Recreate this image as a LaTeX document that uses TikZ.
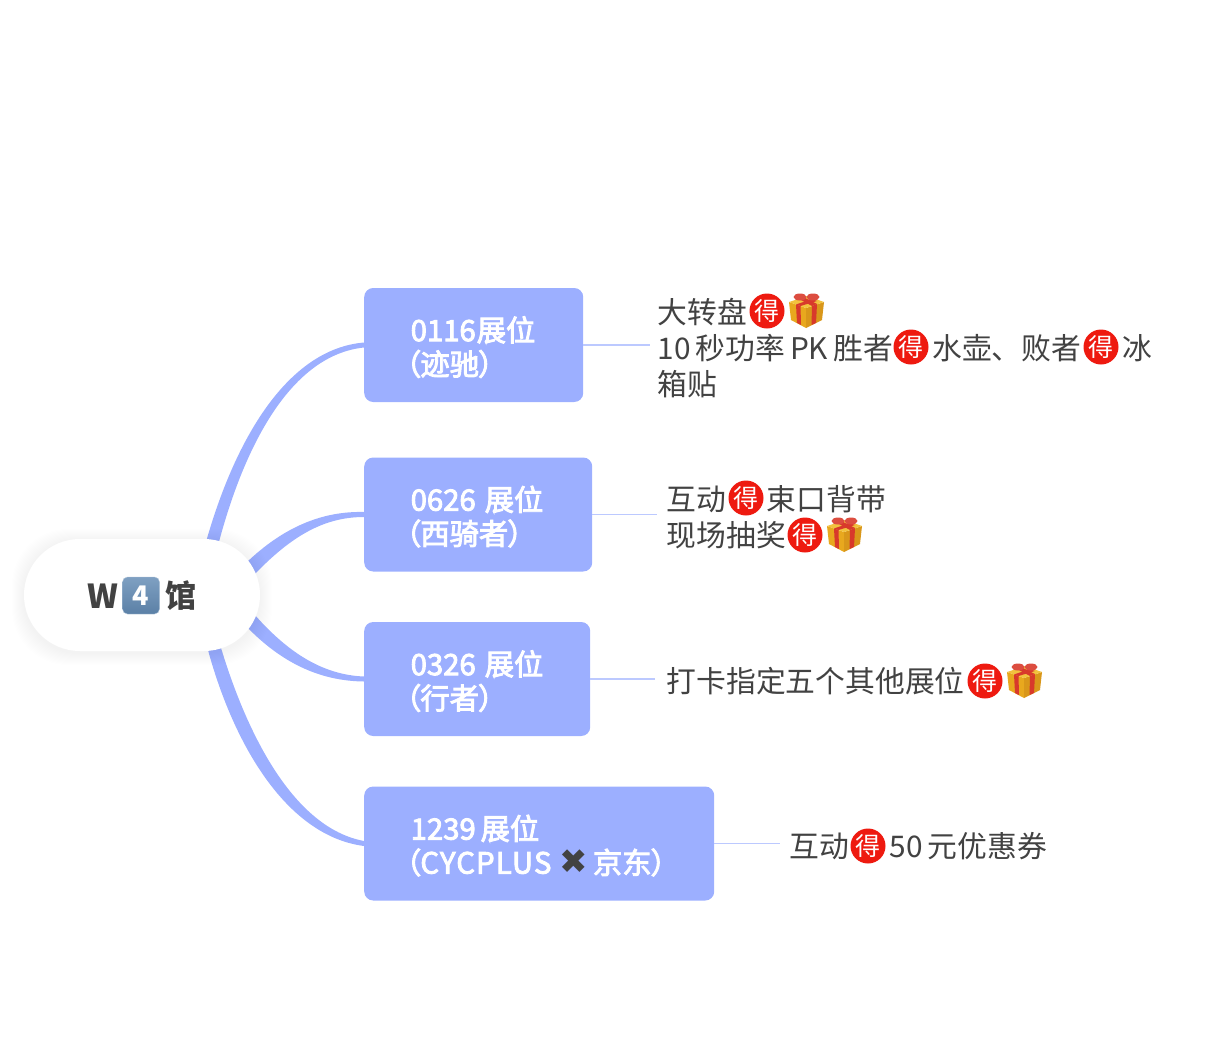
\documentclass[tikz,border=0pt]{standalone}
\usepackage{fontspec}
\setmainfont{Noto Sans CJK SC}
\newfontfamily\palfont[RawFeature=+palt,FakeBold=3]{Noto Sans CJK SC}
\newfontfamily\symfont{DejaVu Sans}
\usetikzlibrary{backgrounds}
\definecolor{topicblue}{HTML}{9CAFFF}
\definecolor{linkblue}{HTML}{BCC9FF}
\definecolor{textgray}{HTML}{424242}
\definecolor{sealred}{HTML}{EE1A10}
\definecolor{giftgold}{HTML}{E8A81E}
\definecolor{giftdark}{HTML}{D9971A}
\definecolor{gifttop}{HTML}{F2C23E}
\definecolor{giftred}{HTML}{D8392B}
\definecolor{keytop}{HTML}{7FA0C2}
\definecolor{keybottom}{HTML}{5B80A6}
\tikzset{
  topic/.style={draw=none,fill=topicblue,rounded corners=9pt,anchor=west,minimum height=114pt,
    inner xsep=46.5pt,inner ysep=0pt,align=left,text=white,
    font=\palfont\fontsize{29.3}{34}\selectfont},
  leaf/.style={anchor=base west,inner sep=0pt,text=textgray,font=\fontsize{29.8}{36}\selectfont},
  seal/.style={circle,fill=sealred,inner sep=0pt,minimum size=35pt,text=white,
    font=\fontsize{25}{25}\selectfont},
  link/.style={draw=linkblue,line width=1.8pt},
  branch/.style={fill=topicblue},
  gift/.pic={
    \fill[giftgold] (-18,-9) -- (-1,-3) -- (-1,17) -- (-16,9) -- cycle;
    \fill[giftdark] (-1,-3) -- (17,-9) -- (15,9) -- (-1,17) -- cycle;
    \fill[gifttop] (-18,-9) -- (0,-15) -- (17,-9) -- (-1,-3) -- cycle;
    \fill[giftred] (-11,-6.5) -- (-6.5,-5) -- (-6,14) -- (-10,12) -- cycle;
    \fill[giftred] (5,-5) -- (10,-7) -- (9,12) -- (4.5,14) -- cycle;
    \fill[giftred] (-11,-6.5) -- (5,-12) -- (10,-10) -- (-6.5,-5) -- cycle;
    \fill[giftred] (-8,-12) -- (-3,-13.5) -- (10,-7) -- (5,-5) -- cycle;
    \fill[giftred!90!white] (-7,-14) ellipse (6.5 and 3.5);
    \fill[giftred!90!white] (6,-14) ellipse (6.5 and 3.5);
  }
}
\begin{document}
\begin{tikzpicture}[x=1pt,y=-1pt]
  \useasboundingbox (0,0) rectangle (1206,1062);
  \node[draw=none,fill=white,rounded corners=56pt,minimum width=236pt,minimum height=112pt,inner sep=0pt]
    (hub) at (142,595) {};
  \node[inner sep=0pt,anchor=base west,text=textgray,font=\bfseries\fontsize{33}{33}\selectfont]
    (hubw) at (87,608) {W};
  \node[draw=keytop!60,top color=keytop,bottom color=keybottom,
    rounded corners=5pt,minimum width=37pt,minimum height=37pt,inner sep=0pt,
    text=white,font=\bfseries\fontsize{27}{27}\selectfont] (hubk) at (141,595.5) {4};
  \node[inner sep=0pt,anchor=base west,text=textgray,font=\bfseries\fontsize{31}{31}\selectfont]
    (hubg) at (165,607) {馆};
  % topics
  \node[topic,text width=126pt] (t1) at (364,345) {\rule{0pt}{29pt}0116\hspace{1pt}展位\\\hspace*{-5pt}（迹驰）};
  \node[topic,text width=135pt] (t2) at (364,514.5) {\rule{0pt}{29pt}0626\hspace{9pt}展位\\\hspace*{-5pt}（西骑者）};
  \node[topic,text width=133pt] (t3) at (364,679) {\rule{0pt}{29pt}0326\hspace{9pt}展位\\\hspace*{-5pt}（行者）};
  \node[topic,text width=257pt] (t4) at (364,843.5) {\rule{0pt}{29pt}1239\,展位\\\hspace*{-5pt}（{\addfontfeature{LetterSpace=4}CYCPLUS}\hspace{8pt}{\symfont\fontsize{34}{34}\selectfont\textcolor{textgray}{✖}}\hspace{5pt}京东）};
  % free ends of the links
  \coordinate (e1) at (650,345);
  \coordinate (e2) at (657,514.5);
  \coordinate (e3) at (655,679);
  \coordinate (e4) at (780,843.5);
  \draw[link] (t1.east) -- (e1);
  \draw[link] (t2.east) -- (e2);
  \draw[link] (t3.east) -- (e3);
  \draw[link] (t4.east) -- (e4);
  % first topic
  \node[leaf] (l1) at (657.5,323) {大转盘};
  \node[seal] (s1) at (767,311) {得};
  \pic at (807,311) {gift};
  \node[leaf] (l2) at (657.5,359) {10\,秒功率\,PK\,胜者};
  \node[seal] (s2) at (911,347) {得};
  \node[leaf] (l3) at (932,359) {水壶、败者};
  \node[seal] (s3) at (1101,347) {得};
  \node[leaf] (l4) at (1122,359) {冰};
  \node[leaf] (l5) at (657.5,395) {箱贴};
  % second topic
  \node[leaf] (l6) at (666.5,510) {互动};
  \node[seal] (s4) at (746,498) {得};
  \node[leaf] (l7) at (766.5,510) {束口背带};
  \node[leaf] (l8) at (666.5,546) {现场抽奖};
  \node[seal] (s5) at (805,535) {得};
  \pic at (845,535) {gift};
  % third topic
  \node[leaf] (l9) at (666.5,692) {打卡指定五个其他展位};
  \node[seal] (s6) at (985,681) {得};
  \pic at (1025,681) {gift};
  % fourth topic
  \node[leaf] (l10) at (789.5,857) {互动};
  \node[seal] (s7) at (868,846) {得};
  \node[leaf] (l11) at (889.5,857) {50\,元优惠券};
  \begin{pgfonlayer}{background}
    \fill[branch] ([xshift=-55,yshift=-6]hub.north east) .. controls (235,438) and (288,349) .. ([yshift=2.5]t1.west)
      -- ([yshift=-2.5]t1.west) .. controls (292,355) and (245,443) .. ([xshift=-42,yshift=-6]hub.north east) -- cycle;
    \fill[branch] ([xshift=-15,yshift=-25]hub.north east) .. controls (285,525) and (325,511) .. ([yshift=2.5]t2.west)
      -- ([yshift=-2.5]t2.west) .. controls (325,517) and (292,535) .. ([xshift=-7,yshift=-37]hub.north east) -- cycle;
    \fill[branch] ([xshift=-6,yshift=37]hub.south east) .. controls (290,655) and (325,675) .. ([yshift=2.5]t3.west)
      -- ([yshift=-2.5]t3.west) .. controls (325,681) and (285,667) .. ([xshift=-15,yshift=26]hub.south east) -- cycle;
    \fill[branch] ([xshift=-53.5,yshift=6]hub.south east) .. controls (233,745) and (287,836) .. ([yshift=-2.5]t4.west)
      -- ([yshift=2.5]t4.west) .. controls (294,828) and (247,735) .. ([xshift=-40,yshift=6]hub.south east) -- cycle;
    \foreach \i in {1,...,12}
      \fill[black,opacity=0.004,rounded corners=56pt] (24-\i,539-\i+2) rectangle (260+\i,651+\i+2);
  \end{pgfonlayer}
\end{tikzpicture}
\end{document}
